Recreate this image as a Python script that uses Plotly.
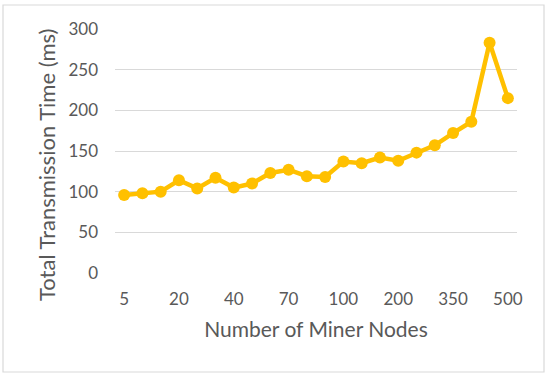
import plotly.graph_objects as go

nodes = ["5", "10", "15", "20", "25", "30", "40", "50", "60", "70", "80", "90",
         "100", "125", "150", "200", "250", "300", "350", "400", "450", "500"]
times = [96, 98, 100, 114, 104, 117, 105, 110, 123, 127, 119, 118,
         137, 135, 142, 138, 148, 157, 172, 186, 283, 215]
tick_labels = ["5", "20", "40", "70", "100", "200", "350", "500"]
y_ticks = [0, 50, 100, 150, 200, 250, 300]

W, H = 550, 377
L, R, T, B = 115, 33, 29, 104

fig = go.Figure()
fig.add_trace(go.Scatter(
    x=nodes, y=times, mode="lines+markers",
    line=dict(color="#FFC000", width=4.5),
    marker=dict(color="#FFC000", size=12),
    showlegend=False, hoverinfo="skip",
))

pw = W - L - R
ph = H - T - B
def px(x):
    return (x - L) / pw
def py(y):
    return (H - B - y) / ph

font = "Lato, 'Open Sans', sans-serif"
fig.update_layout(
    width=W, height=H,
    margin=dict(l=L, r=R, t=T, b=B),
    paper_bgcolor="white", plot_bgcolor="white",
    font=dict(family=font, color="#595959", size=17),
    xaxis=dict(
        type="category",
        tickmode="array", tickvals=tick_labels, ticktext=tick_labels,
        showgrid=False, zeroline=False, showline=False, ticks="",
        range=[-0.5, len(nodes) - 0.5],
        tickfont=dict(size=17, color="#595959"),
        ticklabelstandoff=14,
        title=dict(text="Number of Miner Nodes", font=dict(size=21, color="#595959"), standoff=14),
    ),
    yaxis=dict(
        range=[0, 300], tickvals=y_ticks,
        showgrid=True, gridcolor="#D9D9D9", gridwidth=1,
        zeroline=False, showline=False, ticks="",
        tickfont=dict(size=17, color="#595959"),
        ticklabelstandoff=16,
    ),
    annotations=[dict(
        text="Total Transmission Time (ms)", textangle=-90,
        xref="paper", yref="paper", x=px(46), y=py(165),
        xanchor="center", yanchor="middle", showarrow=False,
        font=dict(size=22, color="#595959"),
    )],
)

fig.add_shape(type="rect", xref="paper", yref="paper",
              x0=px(3), x1=px(544), y0=py(372), y1=py(5),
              line=dict(color="#D9D9D9", width=1.2), fillcolor="rgba(0,0,0,0)", layer="below")

fig.write_html("out.html", config={"displayModeBar": False},
               post_script="document.body.style.margin='0';")
